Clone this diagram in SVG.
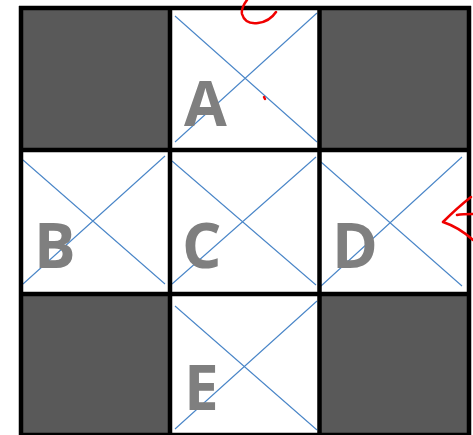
<svg xmlns="http://www.w3.org/2000/svg" width="473" height="435" viewBox="0 0 473 435">
<style>
.dark{fill:#595959;stroke:none}
.x{stroke:#4a86c8;stroke-width:1.1;fill:none}
.lbl{font-family:"Open Sans","Noto Sans","Liberation Sans",sans-serif;font-weight:bold;font-size:62px;fill:#7f7f7f}
.grid{stroke:#000;stroke-width:4.5;fill:none}
.red{stroke:#f00000;stroke-width:2.5;fill:none;stroke-linecap:round;stroke-linejoin:round}
</style>
<rect width="473" height="435" fill="#ffffff"/>
<g id="dark-cells">
<rect class="dark" x="21" y="8" width="149" height="142"/>
<rect class="dark" x="319.5" y="8" width="149.5" height="142"/>
<rect class="dark" x="21" y="294" width="149" height="141"/>
<rect class="dark" x="319.5" y="294" width="149.5" height="141"/>
</g>
<g id="node-A">
<path class="x" d="M175,16 L317,142 M175,142 L317,13"/>
<text class="lbl" x="184" y="126">A</text>
</g>
<g id="node-B">
<path class="x" d="M23,160 L165,284 M23,284 L165,156"/>
<text class="lbl" x="34" y="268">B</text>
</g>
<g id="node-C">
<path class="x" d="M172,161 L316,285 M172,284 L316,157"/>
<text class="lbl" x="182" y="268">C</text>
</g>
<g id="node-D">
<path class="x" d="M321,162 L462,286 M321,286 L462,157"/>
<text class="lbl" x="332" y="268">D</text>
</g>
<g id="node-E">
<path class="x" d="M175,306 L317,430 M175,429 L317,301"/>
<text class="lbl" x="184" y="410">E</text>
</g>
<g id="connectors">
<path class="grid" d="M21,6 V437 M170,6 V437 M319.5,6 V437 M469,6 V437 M19,8 H471 M19,150 H471 M19,294 H471 M19,435 H471"/>
</g>
<g id="annotations">
<path class="red" d="M247,0 C244,4 241,9 242,14 C244,21 250,24 258,23 C266,22 272,18 276,12"/>
<path class="red" d="M264,97 L265,99"/>
<path class="red" d="M471,197 C462,204 452,213 443,222 C452,225 462,230 473,240"/>
<path class="red" d="M457,215 C462,214 467,214 473,214"/>
</g>
</svg>
